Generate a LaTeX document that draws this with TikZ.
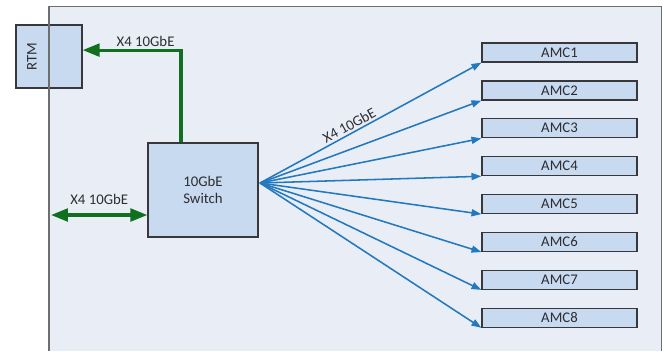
\documentclass[tikz,border=0pt]{standalone}
\usepackage{fontspec}
\setmainfont{Carlito}
\usepackage{tikz}
\usetikzlibrary{arrows.meta,positioning}
\definecolor{bdfill}{RGB}{233,238,246}
\definecolor{bdline}{RGB}{110,110,112}
\definecolor{unitfill}{RGB}{200,218,240}
\definecolor{unitline}{RGB}{55,55,60}
\definecolor{lkgreen}{RGB}{16,112,32}
\definecolor{lkblue}{RGB}{35,120,190}
\definecolor{txtgray}{RGB}{45,45,50}
\tikzstyle{unit} = [rectangle, draw=unitline, fill=unitfill, line width=0.9pt, text=txtgray, align=center, font=\fontsize{10.5}{12.5}\selectfont, inner sep=0pt]
\tikzstyle{amc} = [unit, minimum width=3.875cm, minimum height=0.475cm]
\tikzstyle{greenlink} = [line width=2.2pt, color=lkgreen, -{Triangle[length=12pt,width=9pt]}]
\tikzstyle{bluelink} = [line width=1.1pt, color=lkblue, -{Triangle[length=7pt,width=5pt]}]
\tikzstyle{linklabel} = [font=\fontsize{10.5}{12.5}\selectfont, text=txtgray, inner sep=1.5pt]

\begin{document}
\begin{tikzpicture}[x=0.025cm, y=-0.025cm]
\useasboundingbox[fill=white] (0,0) rectangle (668,351);

% Carrier board
\fill[bdfill] (49,6) rectangle (661,351);

% Rear transition module
\node[unit, minimum width=1.65cm, minimum height=1.575cm] (rtm) at (49,56.5) {};
\node[linklabel, rotate=90] (rtmname) at (32,56.5) {RTM};
\draw[bdline, line width=0.6pt] (49,6) -- (661,6) -- (661,351);
\draw[bdline, line width=1.1pt] (49,351) -- (49,6);

% Switch
\node[unit, minimum width=2.75cm, minimum height=2.35cm] (sw) at (203,190) {10GbE\\Switch};

% AMC slots
\node[amc] (amc1) at (559.5,52.5) {AMC1};
\foreach \i [count=\j from 2] in {1,...,7}
  \node[amc, below=0.44cm of amc\i] (amc\j) {AMC\j};

% Link end points
\coordinate (fan) at (260,183);
\coordinate (edge) at (51,215);

% Green links
\draw[greenlink] ([xshift=-0.55cm]sw.north) |- ([yshift=0.16cm]rtm.east) node[linklabel, pos=0.68, above] {X4 10GbE};
\draw[greenlink, {Triangle[length=12pt,width=9pt]}-{Triangle[length=12pt,width=9pt]}] (edge) -- (sw.west |- edge) node[linklabel, midway, above=5pt] {X4 10GbE};

% Blue fan-out
\draw[bluelink] (fan) -- (amc1.south west) node[linklabel, pos=0.42, above, sloped] {X4 10GbE};
\foreach \i in {2,...,8}
  \draw[bluelink] (fan) -- (amc\i.south west);
\end{tikzpicture}
\end{document}
